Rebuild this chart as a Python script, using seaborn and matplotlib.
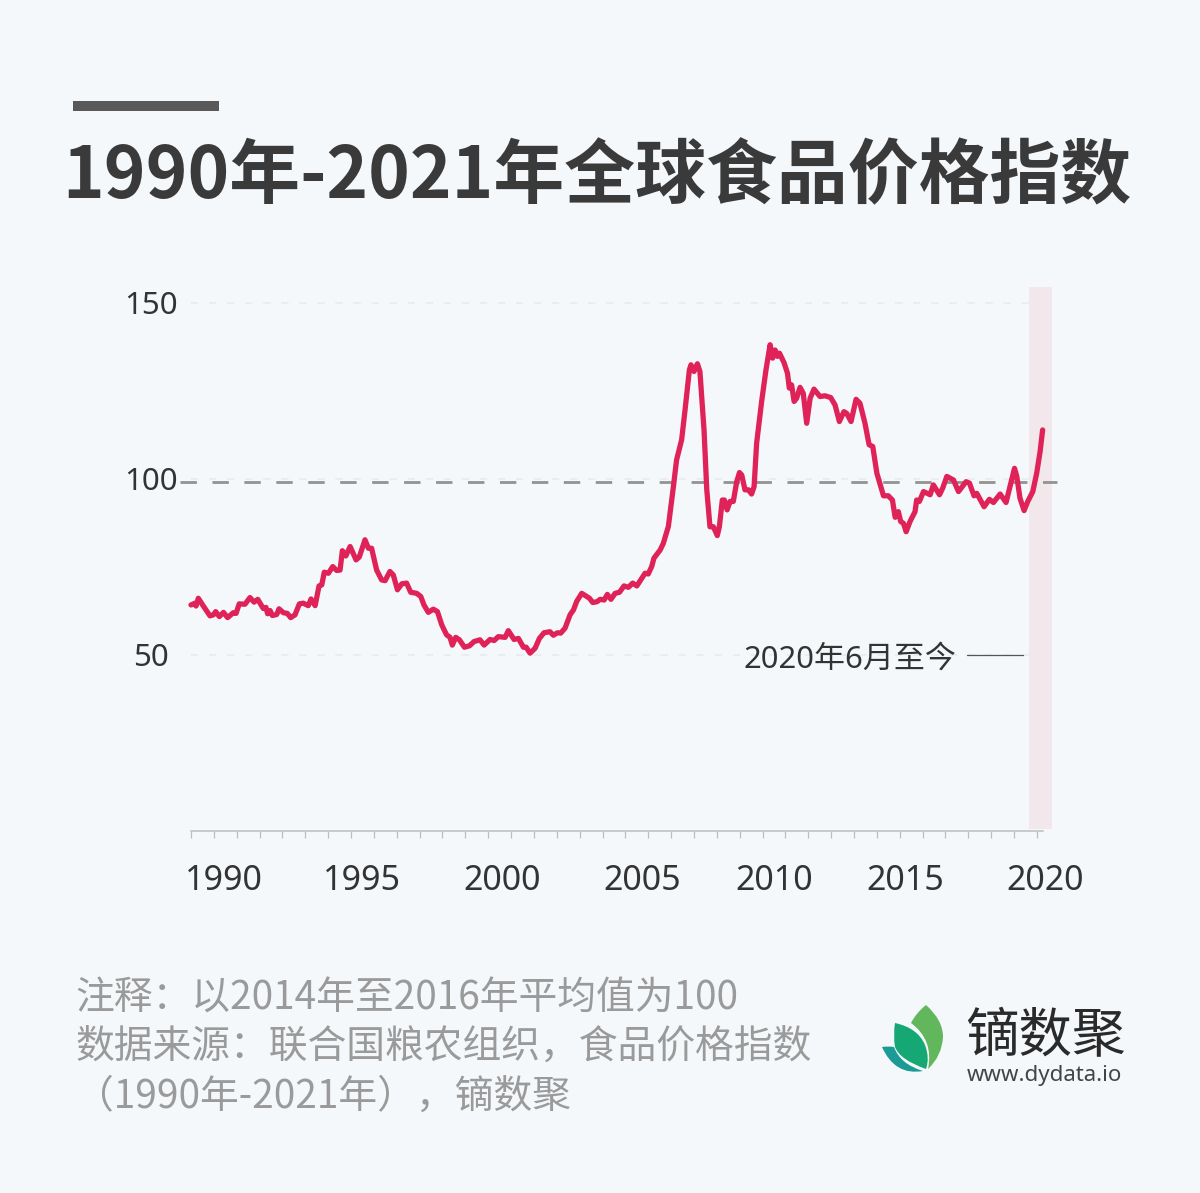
import matplotlib
matplotlib.use("Agg")
import matplotlib.pyplot as plt
from matplotlib.patches import Rectangle, PathPatch
from matplotlib.path import Path
import seaborn as sns
import pandas as pd

BG = "#F4F8FB"
sns.set_theme(style="white")
plt.rcParams["font.family"] = ["Noto Sans CJK SC", "DejaVu Sans"]
LATIN_FIRST = ["Noto Sans", "Noto Sans CJK SC"]

title = "1990年-2021年全球食品价格指数"
notes = ["注释：以2014年至2016年平均值为100",
         "数据来源：联合国粮农组织，食品价格指数",
         "（1990年-2021年），镝数聚"]
callout = "2020年6月至今"
brand = "镝数聚"
site = "www.dydata.io"

months = [0,1.75,2.2,3.2,5.4,8.3,9.8,10.8,12.4,14.2,16,18.5,19.7,21.1,23.6,25.8,27.6,29.2,31.6,32.8,33.5,34.6,35.6,37.5,38.5,40.4,42.1,43.6,45.5,47.4,49.1,51.3,52.5,54.3,56,57.2,58.3,60.1,62,63.7,65.2,66.2,67.7,69.6,72.2,73.6,76.1,77.6,79,81.2,83.4,84.9,87,88.5,90.3,92.2,94.3,96.1,98.7,100.5,101.9,103.8,106,107.8,109.7,111.8,113.3,114.3,115.8,117.4,119.6,121.8,123.8,126.4,128.2,130.8,132.6,134.4,137.4,138.8,141.3,143.2,145.4,146.6,148.3,150.5,152.4,154.4,157,158.5,160.3,161.7,163.6,165.8,167.3,168.7,170.9,173.1,174.3,175.7,177.5,179,180.7,182.1,183.7,185.5,187.4,189.4,191.3,193.2,195,196.7,198.6,200,201.5,202.5,205.2,206.6,208.8,211,212.4,214.6,216.1,218,218.7,220,221.5,222.6,224.4,225.6,227,228.5,230.2,231.1,232.4,233.3,234.5,235.8,237.2,238.7,239.9,240.9,242.3,243.8,245.2,246.3,247.4,249.6,251.5,253.3,254.4,255.5,256.5,257.4,259.4,260.9,261.7,262.7,263.8,264.9,266.4,267.8,269.3,270.8,272.5,275.1,277.3,279.8,281.7,283.6,285.6,286.8,288.7,290.9,292.6,294.8,296.6,298.2,300,302.9,305,306.8,308,309.4,310.4,311.6,312.8,314.5,316.7,317.4,318.6,320.4,323.3,324.7,327.4,328.8,330.6,333.5,335.7,339,340.5,342.5,343.7,346.9,349.2,351,353.9,356.5,360.2,361.2,362.6,364.4,366,368.2,369.9,371.4,372.5]
index_values = [64.2,64.7,63.9,66.1,63.9,61.1,61.4,62.3,60.9,62.1,60.6,62,61.8,64.5,64.4,66.3,65,65.8,63.2,63.5,61.7,62.6,61.2,61.5,63.1,62,61.8,60.6,61.4,64.5,64.7,64,65.9,64,69.6,69.9,73.5,73.2,75.1,74,74.1,79.6,78.1,80.8,77,77.8,82.7,80.3,80.3,74.1,71.3,71.1,73.7,72.7,68.5,70.2,70.4,67.8,67.5,66.6,64.2,62.1,63,62.3,58.5,55.7,55,52.8,55,54.3,52.2,52.6,53.8,54.3,52.8,54.4,54.1,55.2,55,56.9,54.4,54.7,52.2,52.2,50.5,51.9,54.7,56.3,56.6,55.6,56.3,56.2,57.6,61.4,62.8,65.2,67.5,66.6,66.1,64.9,65.1,65.8,65.6,67.2,65.8,67.5,67.8,69.6,69.2,70.4,69.6,71.3,73.2,73,75.1,77.5,79.8,81.7,86.5,97.8,105.4,111.1,119.6,131,132.4,130.5,132.7,130.5,113.9,96.9,86.4,86.4,83.9,86.4,94,94,91.2,93.6,93.6,99.2,101.8,101.1,96.9,96.9,95.7,97.8,110.1,122,131,138.1,134.3,136.6,134.8,135.7,133,130,125.8,126.7,122,122.9,126,124.3,115.8,122.9,125.5,123.4,123.6,123.1,121,116.3,119.1,118.6,116.3,122.6,121.5,115.8,109.7,109.2,101.6,95.2,95.2,94,89.1,90.7,87.9,87.4,85,87.9,90.7,94,93.6,96.4,95.5,98.3,95.5,97.4,100.7,99.7,96.4,99.2,98.8,95.2,95.9,92.1,94.2,93.3,95.7,93.3,103,100.7,94.5,91,93.6,96.4,101.6,107.8,113.9]

year_labels = ["1990", "1995", "2000", "2005", "2010", "2015", "2020"]
year_label_months = [14.4, 74.8, 136, 197.3, 255, 312.3, 373.6]
minor_months = list(range(0, 371, 10))
y_ticks = [50, 100, 150]
reference_level = [99, 99]
reference_span = [-4.8, 379]
highlight_span = [366.6, 376.6]

df = pd.DataFrame({"month": months, "index": index_values})

W, H = 1200, 1193
fig = plt.figure(figsize=(W / 100, H / 100), dpi=100, facecolor=BG)
ax = fig.add_axes([191 / W, 1 - 831 / H, (1052 - 191) / W, (831 - 287) / H], facecolor="none")

ax.axvspan(highlight_span[0], highlight_span[1], ymin=0.004, ymax=1, color="#F2E7EB", lw=0, zorder=1)
ax.grid(False)
for t in y_ticks:
    ax.plot([0, 371], [t, t], color="#E9ECEE", lw=1.3, dashes=(4, 6), zorder=1.5)
ax.plot(reference_span, reference_level, color="#929292", lw=2.0, dashes=(5.9, 5.6),
        dash_capstyle="butt", clip_on=False, zorder=2)
sns.lineplot(data=df, x="month", y="index", ax=ax, color="#DF2358", lw=3.8, estimator=None,
             sort=False, zorder=3, clip_on=False, solid_joinstyle="round", solid_capstyle="round")

ax.set_xlim(0, 376.6)
ax.set_ylim(0, 154.5)
ax.set_xlabel("")
ax.set_ylabel("")
for s in ("top", "right", "left"):
    ax.spines[s].set_visible(False)
ax.spines["bottom"].set_color("#BDBDBD")
ax.spines["bottom"].set_linewidth(1.1)
ax.spines["bottom"].set_bounds(0, 372.7)

ax.set_xticks(year_label_months, year_labels, family=LATIN_FIRST)
ax.set_xticks(minor_months, minor=True)
ax.tick_params(axis="x", which="major", length=0, pad=24, labelsize=24.5, labelcolor="#333333")
ax.tick_params(axis="x", which="minor", length=5, width=0.9, color="#BDBDBD", bottom=True)
ax.set_yticks(y_ticks, [str(t) for t in y_ticks], family=LATIN_FIRST)
ax.tick_params(axis="y", length=0, pad=29, labelsize=22.5, labelcolor="#333333")
for lab in ax.get_yticklabels():
    lab.set_ha("center")
    lab.set_y(lab.get_position()[1])

ov = fig.add_axes([0, 0, 1, 1], facecolor="none")
ov.set_xlim(0, W)
ov.set_ylim(H, 0)
ov.axis("off")

ov.add_patch(Rectangle((73, 101), 146, 10, color="#595959", lw=0))
ov.text(597, 177, title, ha="center", va="center", fontsize=51, fontweight="bold", color="#3A3A3A")

ov.text(956, 660, callout, ha="right", va="center", fontsize=22.3, color="#333333", family=LATIN_FIRST)
ov.plot([967, 1023], [655, 655], color="#555555", lw=0.9)

for y, line in zip((999, 1048, 1097), notes):
    ov.text(75, y, line, ha="left", va="center", fontsize=27.95, color="#9A9A9A")


def leaf(points, color):
    verts = [p for p in points]
    codes = [Path.MOVETO] + [Path.CURVE3] * (len(verts) - 1)
    ov.add_patch(PathPatch(Path(verts, codes), facecolor=color, edgecolor="none"))


leaf([(926, 1005), (943, 1020), (943, 1037), (942, 1056), (928, 1069), (934, 1040), (911, 1023), (916, 1013), (926, 1005)], "#62B65C")
leaf([(895, 1023), (918, 1028), (925, 1045), (930, 1058), (926, 1069), (900, 1060), (895, 1047), (893, 1035), (895, 1023)], "#16A874")
leaf([(882, 1047), (888, 1046), (894, 1047), (900, 1064), (923, 1071), (895, 1076), (882, 1047)], "#1B9A96")

ov.text(1045, 1037, brand, ha="center", va="center", fontsize=38.5, fontweight="medium", color="#2A2A2A")
ov.text(1044, 1076, site, ha="center", va="center", fontsize=16, color="#444444", family=LATIN_FIRST)

fig.savefig("out.png", dpi=100, facecolor=BG)
